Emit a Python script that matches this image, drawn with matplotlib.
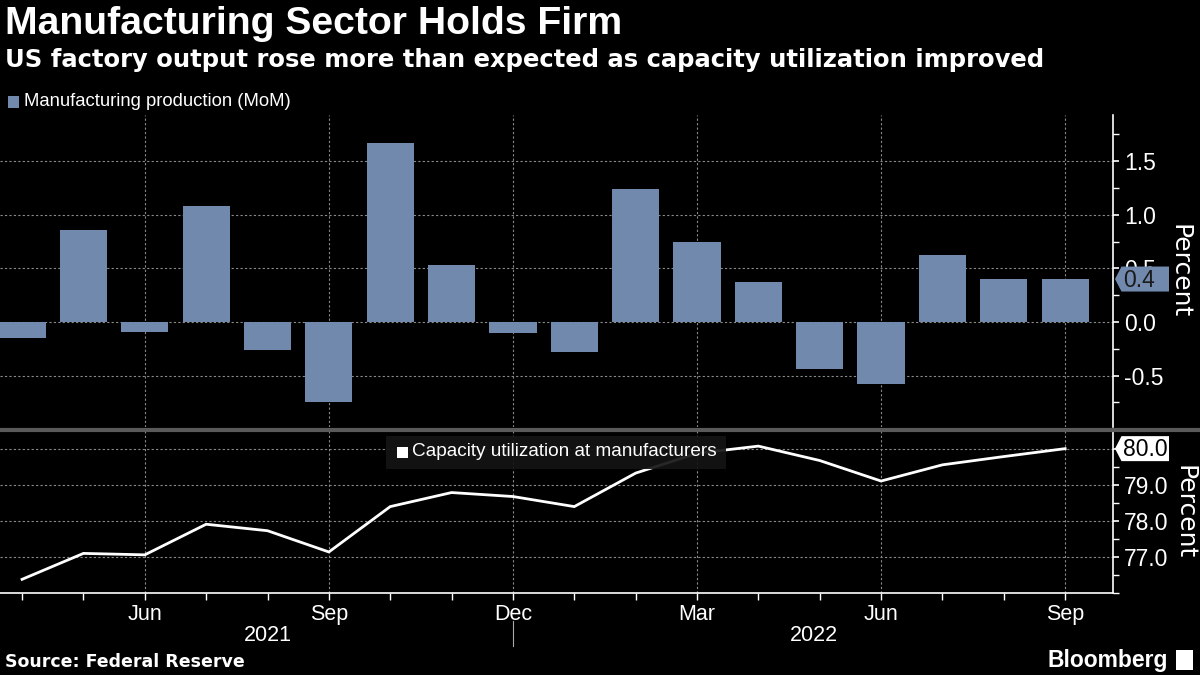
import matplotlib
matplotlib.use("Agg")
import matplotlib.pyplot as plt
import matplotlib.transforms as mtransforms
from matplotlib.patches import Polygon, Rectangle
import numpy as np

# ---------------- data ----------------
months = ["Apr", "May", "Jun", "Jul", "Aug", "Sep", "Oct", "Nov", "Dec",
          "Jan", "Feb", "Mar", "Apr", "May", "Jun", "Jul", "Aug", "Sep"]
years = [2021] * 9 + [2022] * 9
mom_change = [-0.15, 0.86, -0.09, 1.08, -0.26, -0.75, 1.67, 0.53, -0.10,
              -0.28, 1.24, 0.75, 0.37, -0.44, -0.58, 0.62, 0.40, 0.40]
capacity_util = [76.38, 77.10, 77.06, 77.91, 77.73, 77.14, 78.40, 78.79, 78.68,
                 78.40, 79.33, 79.88, 80.08, 79.68, 79.11, 79.56, 79.79, 80.01]
major_tick_months = ["Jun", "Sep", "Dec", "Mar"]
upper_yticks = [-0.5, 0.0, 0.5, 1.0, 1.5]
lower_yticks = [77.0, 78.0, 79.0, 80.0]
year_label_pos = {2021: 4.0, 2022: 12.9}

title = "Manufacturing Sector Holds Firm"
subtitle = "US factory output rose more than expected as capacity utilization improved"
legend_upper = "Manufacturing production (MoM)"
legend_lower = "Capacity utilization at manufacturers"
source = "Source: Federal Reserve"

# ---------------- style ----------------
BG = "black"
BAR = "#7089ad"
GRID = "#8a8a8a"
FONT = ["Liberation Sans Narrow", "Liberation Sans", "DejaVu Sans"]
plt.rcParams["font.family"] = FONT

W, H = 1200, 675
fig = plt.figure(figsize=(W / 100, H / 100), dpi=100, facecolor=BG)

def fx(px):
    return px / W

def fy(py):
    return 1 - py / H

x = np.arange(len(months))
xlim = (-0.36, 17.78)
major_idx = [i for i, m in enumerate(months) if m in major_tick_months]

ax1 = fig.add_axes([0, fy(427), fx(1113), fy(115) - fy(427)], facecolor=BG)
ax2 = fig.add_axes([0, fy(593), fx(1113), fy(431) - fy(593)], facecolor=BG)

# upper bars
ax1.bar(x, mom_change, width=0.77, color=BAR, zorder=3)
ax1.set_xlim(*xlim)
ax1.set_ylim(-0.98, 1.93)

# lower line
ax2.plot(x, capacity_util, color="white", lw=2, zorder=3, solid_joinstyle="miter")
ax2.set_xlim(*xlim)
ax2.set_ylim(76.0, 80.5)

for ax, yt, minor_step in ((ax1, upper_yticks, 0.25), (ax2, lower_yticks, 0.5)):
    for s in ("left", "top", "bottom"):
        ax.spines[s].set_visible(False)
    ax.spines["right"].set_color("white")
    ax.spines["right"].set_linewidth(1.2)
    ax.yaxis.tick_right()
    ax.set_yticks(yt)
    lo, hi = ax.get_ylim()
    ax.set_yticks(np.arange(np.ceil(lo / minor_step) * minor_step, hi, minor_step), minor=True)
    ax.tick_params(axis="y", which="major", colors="white", labelsize=16.5, length=4, width=1.2, pad=4)
    ax.tick_params(axis="y", which="minor", colors="white", length=4, width=1)
    ax.set_yticklabels([f"{v:.1f}" for v in yt], color="white")
    ax.set_xticks([x[i] for i in major_idx])
    for v in yt:
        ax.axhline(v, color=GRID, lw=0.8, ls=(0, (2, 2)), zorder=1)
    for i in major_idx:
        ax.axvline(x[i], color=GRID, lw=0.8, ls=(0, (2, 2)), zorder=1)

ax1.tick_params(axis="x", which="both", length=0, labelbottom=False)
ax2.axhline(76.0, color=GRID, lw=0.8, ls=(0, (2, 2)), zorder=1)
ax2.spines["bottom"].set_visible(True)
ax2.spines["bottom"].set_color("white")
ax2.spines["bottom"].set_linewidth(1.2)
ax2.set_xticks(x, minor=True)
ax2.set_xticklabels([months[i] for i in major_idx])
ax2.tick_params(axis="x", which="both", colors="white", length=5, width=1, labelsize=15.5, pad=3)

# y labels
for ax in (ax1, ax2):
    ax.yaxis.set_label_position("right")
    ax.set_ylabel("Percent", color="white", fontsize=18, rotation=270, labelpad=20,
                  family=["DejaVu Sans"])

# year labels and separator
for yr in sorted(set(years)):
    ax2.text(year_label_pos[yr], -0.26, str(yr), transform=ax2.get_xaxis_transform(),
             color="white", fontsize=15.5, ha="center", va="center")
ax2.plot([8, 8], [-0.17, -0.33], color="#aaaaaa", lw=0.8,
         transform=ax2.get_xaxis_transform(), clip_on=False)

# value labels at right
def value_tag(ax, val, text, fc, tc, fs):
    blend = mtransforms.blended_transform_factory(ax.transAxes, ax.transData)
    trans = fig.dpi_scale_trans + mtransforms.ScaledTranslation(1.0, val, blend)
    h = 0.125
    tip = 0.02
    wbox = 0.54
    poly = Polygon([(tip, 0), (tip + 0.065, h), (tip + wbox, h), (tip + wbox, -h),
                    (tip + 0.065, -h)], closed=True, fc=fc, ec="none",
                   transform=trans, clip_on=False, zorder=10)
    ax.add_artist(poly)
    ax.text(0, 0, text,
            transform=trans + mtransforms.ScaledTranslation(tip + 0.085, -0.01, fig.dpi_scale_trans),
            color=tc, fontsize=fs, ha="left", va="center", zorder=11, clip_on=False)

value_tag(ax1, mom_change[-1], f"{mom_change[-1]:.1f}", BAR, "#1a1a1a", 16.5)
value_tag(ax2, capacity_util[-1], f"{capacity_util[-1]:.1f}", "white", "black", 16.5)

# legends
fig.patches.append(Rectangle((fx(8), fy(108)), fx(11), fy(96) - fy(108), transform=fig.transFigure,
                             fc=BAR, ec="none"))
fig.text(fx(24), fy(101), legend_upper, color="white", fontsize=13.3, va="center", ha="left")

leg_bg = Rectangle((fx(386), fy(469)), fx(340), fy(436) - fy(469), transform=fig.transFigure,
                   fc="#141414", ec="none", zorder=5, alpha=0.92)
fig.patches.append(leg_bg)
fig.patches.append(Rectangle((fx(397), fy(458)), fx(11), fy(447) - fy(458), transform=fig.transFigure,
                             fc="white", ec="none", zorder=6))
fig.text(fx(412), fy(452), legend_lower, color="white", fontsize=13.7, va="center", ha="left", zorder=7)

# separator between panels
fig.add_artist(plt.Line2D([0, 1], [fy(430), fy(430)], color="#5a5a5a", lw=3, transform=fig.transFigure))

# titles
fig.text(fx(5), fy(24), title, color="white", fontsize=28.2, fontweight="bold", va="center", ha="left",
         family=["Liberation Sans", "DejaVu Sans"])
fig.text(fx(5), fy(60), subtitle, color="white", fontsize=17.5, fontweight="bold", va="center", ha="left",
         family=["DejaVu Sans"])

# footer
fig.text(fx(5), fy(662), source, color="white", fontsize=12.5, fontweight="bold", va="center", ha="left",
         family=["DejaVu Sans"])
fig.text(fx(1168), fy(660), "Bloomberg", color="white", fontsize=16.5, fontweight="bold", va="center", ha="right",
         family=["Liberation Sans Narrow", "Liberation Sans", "DejaVu Sans"])
fig.patches.append(Rectangle((fx(1176), fy(670)), fx(17), fy(650) - fy(670), transform=fig.transFigure,
                             fc="white", ec="none"))

fig.savefig("out.png", dpi=100, facecolor=BG)
